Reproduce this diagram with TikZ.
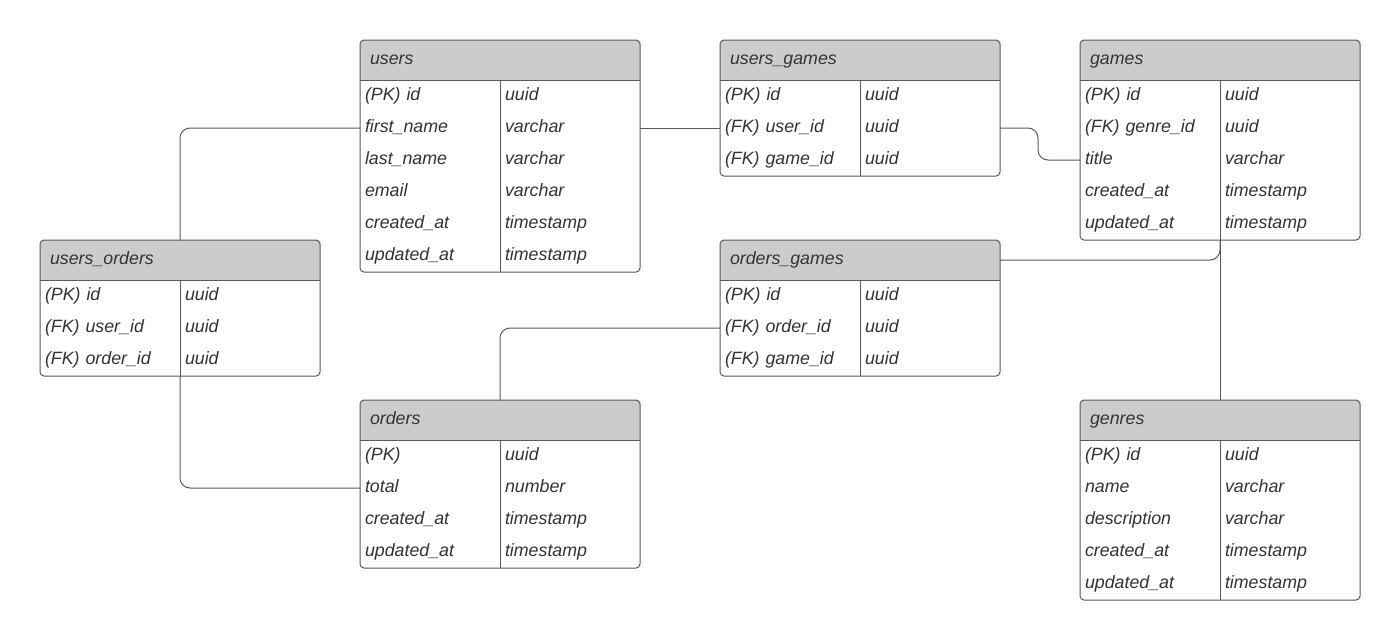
\documentclass[tikz,border=0pt]{standalone}
\usepackage{fontspec}
\setmainfont{Liberation Sans}
\usepackage{tikz}
\usetikzlibrary{positioning}
\definecolor{erdline}{HTML}{5A5A5A}
\definecolor{erdhead}{HTML}{CCCCCC}
\definecolor{erdtext}{HTML}{333333}
\newcommand{\pkey}{(PK)}
\newcommand{\fkey}{(FK)}
\tikzstyle{tablebox} = [rectangle, fill=white, inner sep=0pt, outer sep=0pt,
    minimum width=280pt, anchor=north west]
\tikzstyle{cell} = [rectangle, inner xsep=5pt, inner ysep=0pt, outer sep=0pt,
    minimum height=32pt, text height=11pt, text depth=3pt, anchor=north west,
    text width=130pt, align=left, text=erdtext,
    font=\fontsize{17.8}{20}\selectfont\itshape]
\tikzstyle{tabletitle} = [cell, minimum height=40pt, inner xsep=10pt, text width=260pt]
\tikzstyle{tableline} = [draw=erdline, line width=1pt]
\tikzstyle{link} = [draw=erdline, line width=1pt, rounded corners=10pt]

% #1 name, #2 x, #3 y, #4 number of rows, #5 title, #6 rows key/type
\newcommand{\erdtable}[6]{%
  \node [tablebox, minimum height={(40+32*#4)*1pt}] (#1) at (#2,#3) {};
  \fill [erdhead, rounded corners=4pt] (#1.north west) rectangle ([yshift=-40pt]#1.north east);
  \fill [erdhead] ([yshift=-20pt]#1.north west) rectangle ([yshift=-40pt]#1.north east);
  \draw [tableline] ([yshift=-40pt]#1.north west) -- ([yshift=-40pt]#1.north east);
  \draw [tableline] ([shift={(140pt,-40pt)}]#1.north west) -- ([xshift=140pt]#1.south west);
  \draw [tableline, rounded corners=4pt] (#1.north west) rectangle (#1.south east);
  \node [tabletitle] (#1-title) at (#1.north west) {#5};
  \foreach \key/\type [count=\i] in {#6} {
    \node [cell] (#1-\i) at ([yshift={(-40-32*(\i-1))*1pt}]#1.north west) {\key};
    \node [cell] (#1-\i-type) at (#1-\i.north east) {\type};
  }
}

\begin{document}
\begin{tikzpicture}[x=1pt, y=-1pt]
  \useasboundingbox (0,0) rectangle (1400,640);

  \erdtable{users}{360}{40}{6}{users}{\pkey{} id/uuid, first\_name/varchar,
    last\_name/varchar, email/varchar, created\_at/timestamp, updated\_at/timestamp}
  \erdtable{usersgames}{720}{40}{3}{users\_games}{\pkey{} id/uuid,
    \fkey{} user\_id/uuid, \fkey{} game\_id/uuid}
  \erdtable{games}{1080}{40}{5}{games}{\pkey{} id/uuid, \fkey{} genre\_id/uuid,
    title/varchar, created\_at/timestamp, updated\_at/timestamp}
  \erdtable{usersorders}{40}{240}{3}{users\_orders}{\pkey{} id/uuid,
    \fkey{} user\_id/uuid, \fkey{} order\_id/uuid}
  \erdtable{ordersgames}{720}{240}{3}{orders\_games}{\pkey{} id/uuid,
    \fkey{} order\_id/uuid, \fkey{} game\_id/uuid}
  \erdtable{orders}{360}{400}{4}{orders}{\pkey/uuid, total/number,
    created\_at/timestamp, updated\_at/timestamp}
  \erdtable{genres}{1080}{400}{5}{genres}{\pkey{} id/uuid, name/varchar,
    description/varchar, created\_at/timestamp, updated\_at/timestamp}

  % relations
  \draw [link] (usersorders-1-type.west |- usersorders.north) |- (users-2.west);
  \draw [link] (users-2-type.east) -- (usersgames-2.west);
  \draw [link] (usersgames-2-type.east) -- ++(38,0) |- (games-3.west);
  \draw [link] (games-5-type.south west) -- (genres-1-type.west |- genres.north);
  \draw [link] (games-5-type.south west) |- (ordersgames-title.east);
  \draw [link] (ordersgames-2.west) -| (orders-1-type.west |- orders.north);
  \draw [link] (usersorders-3-type.south west) |- (orders-2.west);
\end{tikzpicture}
\end{document}
